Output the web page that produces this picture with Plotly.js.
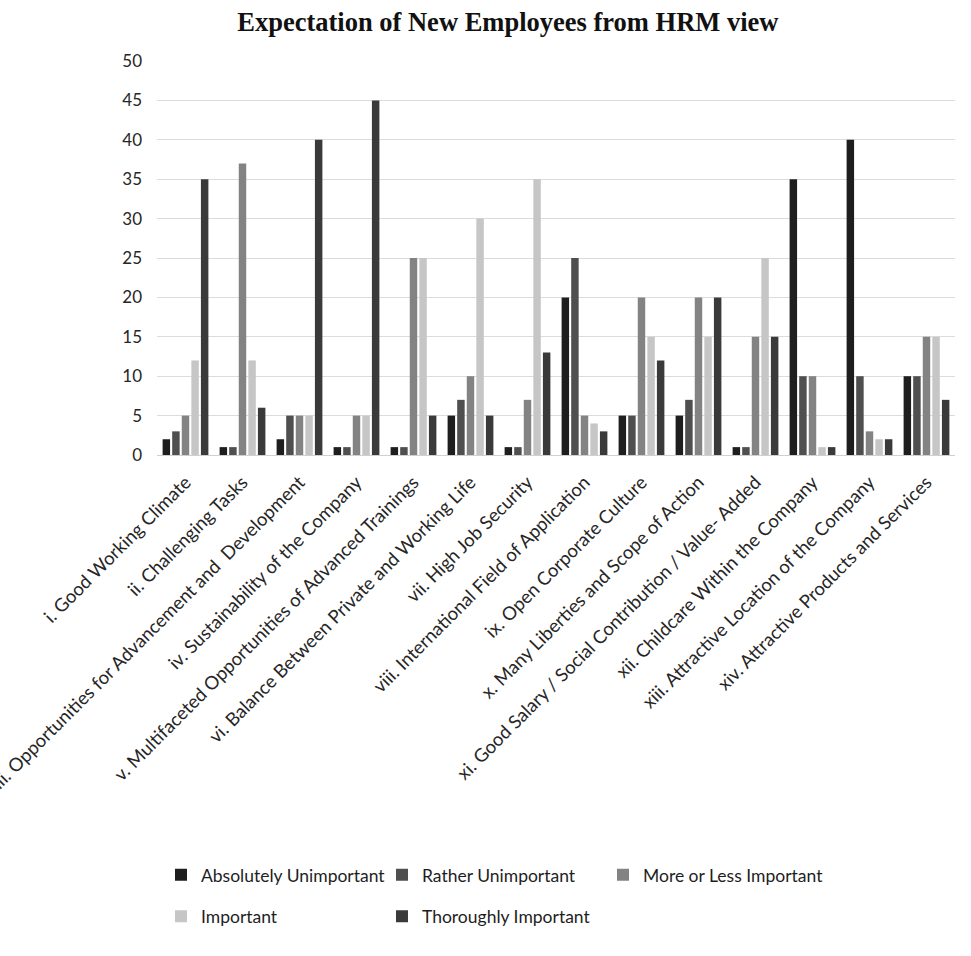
<!DOCTYPE html>
<html>
<head>
<meta charset="utf-8">
<script src="https://cdn.plot.ly/plotly-3.0.1.min.js"></script>
<style>
  html, body { margin: 0; padding: 0; background: #ffffff; }
  #chart { width: 971px; height: 956px; }
</style>
</head>
<body>
<div id="chart"></div>
<script>
// Survey items (category axis)
const categories = [
  "i. Good Working Climate",
  "ii. Challenging Tasks",
  "iii. Opportunities for Advancement and  Development",
  "iv. Sustainability of the Company",
  "v. Multifaceted Opportunities of Advanced Trainings",
  "vi. Balance Between Private and Working Life",
  "vii. High Job Security",
  "viii. International Field of Application",
  "ix. Open Corporate Culture",
  "x. Many Liberties and Scope of Action",
  "xi. Good Salary / Social Contribution / Value- Added",
  "xii. Childcare Within the Company",
  "xiii. Attractive Location of the Company",
  "xiv. Attractive Products and Services"
];

// Responses per rating level
const absolutelyUnimportant = [2, 1, 2, 1, 1, 5, 1, 20, 5, 5, 1, 35, 40, 10];
const ratherUnimportant     = [3, 1, 5, 1, 1, 7, 1, 25, 5, 7, 1, 10, 10, 10];
const moreOrLessImportant   = [5, 37, 5, 5, 25, 10, 7, 5, 20, 20, 15, 10, 3, 15];
const important             = [12, 12, 5, 5, 25, 30, 35, 4, 15, 15, 25, 1, 2, 15];
const thoroughlyImportant   = [35, 6, 40, 45, 5, 5, 13, 3, 12, 20, 15, 1, 2, 7];

const seriesNames = [
  "Absolutely Unimportant",
  "Rather Unimportant",
  "More or Less Important",
  "Important",
  "Thoroughly Important"
];
const yTicks = [0, 5, 10, 15, 20, 25, 30, 35, 40, 45, 50];

const seriesValues = [
  absolutelyUnimportant,
  ratherUnimportant,
  moreOrLessImportant,
  important,
  thoroughlyImportant
];
const seriesColors = ["#1e1e1e", "#4f4f4f", "#838383", "#c6c6c6", "#3a3a3a"];
// first three entries sit on the upper legend row, the rest on the lower one
const legendRow = ["legend", "legend", "legend", "legend2", "legend2"];

const traces = seriesNames.map((name, i) => ({
  type: "bar",
  name: name,
  x: categories,
  y: seriesValues[i],
  legend: legendRow[i],
  marker: { color: seriesColors[i], line: { width: 0 } },
  hoverinfo: "x+y+name"
}));

const labelFont = "Lato, 'Open Sans', sans-serif";
const legendBase = {
  orientation: "h",
  x: 0.005,
  xanchor: "left",
  yanchor: "top",
  entrywidth: 176,
  entrywidthmode: "pixels",
  itemwidth: 30,
  font: { family: labelFont, size: 17.5, color: "#1e1e1e" },
  bgcolor: "rgba(0,0,0,0)"
};

const layout = {
  width: 971,
  height: 956,
  paper_bgcolor: "#ffffff",
  plot_bgcolor: "#ffffff",
  margin: { l: 157, r: 16, t: 61, b: 501 },
  barmode: "group",
  bargap: 0.16,
  bargroupgap: 0.22,
  title: {
    text: "<b>Expectation of New Employees from HRM view</b>",
    x: 0.523,
    xanchor: "center",
    y: 0.977,
    yanchor: "middle",
    font: { family: "'Liberation Serif', 'Times New Roman', serif", size: 26.5, color: "#111111" }
  },
  xaxis: {
    type: "category",
    tickangle: -45,
    tickfont: { family: labelFont, size: 18.5, color: "#262626" },
    ticklabelstandoff: 12,
    showgrid: false,
    showline: false,
    ticks: "",
    automargin: false
  },
  yaxis: {
    range: [0, 50],
    tickvals: yTicks,
    ticktext: yTicks.map(String),
    tickfont: { family: labelFont, size: 17, color: "#262626" },
    showgrid: true,
    gridcolor: "#dcdcdc",
    gridwidth: 1,
    zeroline: true,
    zerolinecolor: "#d0d0d0",
    zerolinewidth: 1,
    showline: false,
    ticks: "",
    ticklabelstandoff: 14,
    automargin: false
  },
  showlegend: true,
  legend: Object.assign({}, legendBase, { y: -1.02 }),
  legend2: Object.assign({}, legendBase, { y: -1.125 })
};

Plotly.newPlot("chart", traces, layout, { displayModeBar: false, staticPlot: true });
</script>
</body>
</html>
